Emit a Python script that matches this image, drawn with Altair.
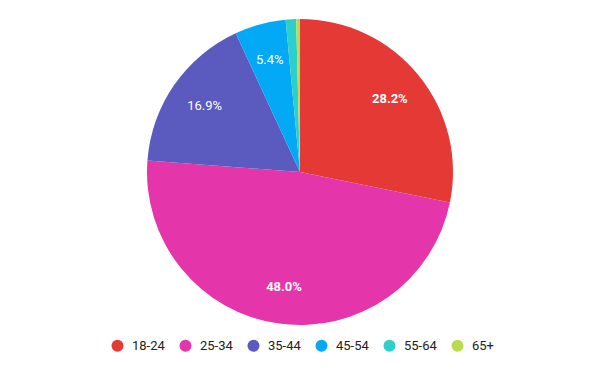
import altair as alt
import pandas as pd

groups = ["18-24", "25-34", "35-44", "45-54", "55-64", "65+"]
shares = [28.2, 48.0, 16.9, 5.4, 1.1, 0.4]
colors = ["#E53935", "#E535AB", "#5B5BBF", "#03A9F4", "#2DCFCB", "#B9DB50"]
bold_groups = ["18-24", "25-34"]
plain_groups = ["35-44", "45-54"]

df = pd.DataFrame({
    "group": groups,
    "share": shares,
    "idx": list(range(len(groups))),
})
df["label"] = df["share"].map(lambda v: f"{v:.1f}%")
total = float(sum(shares))

base = alt.Chart(df).transform_window(
    cum="sum(share)", sort=[alt.SortField("idx")], frame=[None, 0]
).transform_calculate(
    start="datum.cum - datum.share",
    mid="datum.cum - datum.share / 2",
)

tscale = alt.Scale(domain=[0, total])

arcs = base.mark_arc(radius=153).encode(
    theta=alt.Theta("start:Q", scale=tscale),
    theta2="cum:Q",
    color=alt.Color(
        "group:N",
        scale=alt.Scale(domain=groups, range=colors),
        sort=groups,
        legend=alt.Legend(
            title=None,
            orient="none",
            direction="horizontal",
            legendX=103,
            legendY=331,
            symbolType="circle",
            symbolSize=144,
            symbolStrokeWidth=0,
            labelFont="Roboto",
            labelFontSize=13,
            labelColor="#222222",
            labelOffset=8,
            columnPadding=14,
            columns=6,
        ),
    ),
)

bold_text = base.transform_filter(
    alt.FieldOneOfPredicate(field="group", oneOf=bold_groups)
).mark_text(
    radius=116, font="Roboto", fontSize=13, fontWeight="bold", color="white"
).encode(theta=alt.Theta("mid:Q", scale=tscale), text="label:N")

plain_text = base.transform_filter(
    alt.FieldOneOfPredicate(field="group", oneOf=plain_groups)
).mark_text(
    radius=116, font="Roboto", fontSize=13, fontWeight="normal", color="white"
).encode(theta=alt.Theta("mid:Q", scale=tscale), text="label:N")

chart = alt.layer(arcs, bold_text, plain_text).properties(
    width=584,
    height=328,
    autosize=alt.AutoSizeParams(type="none"),
    padding={"left": 0, "top": 0, "right": 0, "bottom": 27},
).configure_view(stroke=None)

chart.save("out.html", embed_options={"renderer": "svg", "actions": False})
